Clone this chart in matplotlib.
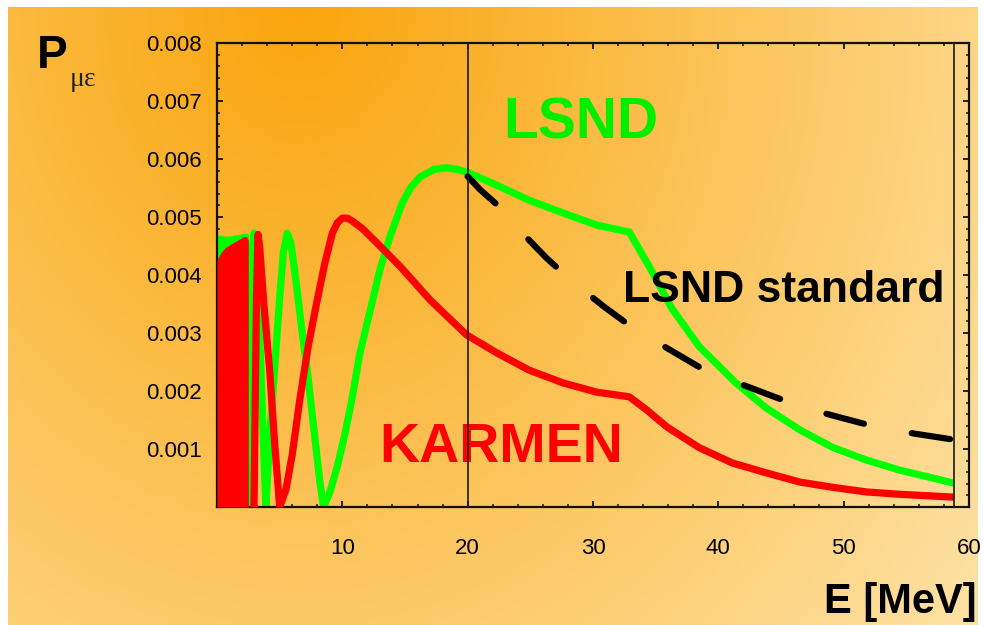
import numpy as np
import matplotlib
matplotlib.use("Agg")
import matplotlib.pyplot as plt
from matplotlib.ticker import MultipleLocator, FixedLocator

plt.rcParams['font.family'] = ['Liberation Sans', 'DejaVu Sans']

# ---- data (P values in units of 1e-3) ----
# dense oscillation region near E = 0 (drawn as filled envelopes)
dense_x = [0, 0.3, 0.64, 1.0, 1.4, 1.8, 2.1, 2.35, 2.5]
karmen_dense_top = [4.26, 4.38, 4.47, 4.52, 4.57, 4.62, 4.66, 4.66, 4.6]
lsnd_dense_top = [4.69, 4.68, 4.67, 4.67, 4.69, 4.7, 4.72, 4.72, 4.7]

# LSND (green)
lsnd_x = [2.5, 2.6, 2.7, 2.8, 2.95, 3.1, 3.3, 3.5, 3.7, 3.9, 4.2, 4.6, 5.0,
          5.3, 5.6, 5.9, 6.3, 6.8, 7.2, 7.7, 8.2, 8.5, 9.0, 9.6, 10.2, 10.75,
          11.4, 12.4, 13.0, 13.8, 14.8, 15.5, 16.2, 17.3, 18.3, 19.2, 20.0,
          22.3, 24.9, 27.6, 30.3, 32.9, 34.5, 36.3, 38.5, 41.4, 43.8, 46.5,
          49.1, 51.8, 54.4, 57.1, 58.8]
lsnd_p = [0, 1.8, 3.5, 4.45, 4.72, 4.45, 3.6, 2.4, 1.1, 0, 1.2, 2.4, 3.6,
          4.4, 4.72, 4.55, 3.9, 3.0, 2.36, 1.4, 0.45, 0, 0.25, 0.7, 1.25, 1.84,
          2.65, 3.55, 4.09, 4.66, 5.25, 5.52, 5.69, 5.82, 5.85, 5.82, 5.77,
          5.55, 5.29, 5.07, 4.86, 4.74, 4.14, 3.42, 2.76, 2.14, 1.71, 1.33,
          1.03, 0.81, 0.64, 0.50, 0.41]

# KARMEN (red)
karmen_x = [2.95, 3.05, 3.15, 3.27, 3.4, 3.7, 4.2, 4.6, 5.0, 5.5, 6.0,
            6.6, 7.3, 8.0, 8.6, 9.2, 9.6, 10.0, 10.4, 10.8, 11.6, 12.4, 13.0,
            14.6, 17.0, 19.9, 22.3, 24.9, 27.6, 30.3, 32.9, 34.3, 35.9, 38.5,
            41.1, 43.8, 46.5, 49.1, 51.8, 54.4, 58.8]
karmen_p = [0, 1.8, 3.6, 4.7, 4.5, 3.6, 2.36, 1.1, 0, 0.3, 0.9,
            1.84, 2.8, 3.57, 4.2, 4.72, 4.9, 4.98, 4.98, 4.93, 4.8, 4.63, 4.5,
            4.15, 3.57, 2.97, 2.66, 2.36, 2.14, 1.98, 1.90, 1.67, 1.38, 1.02,
            0.76, 0.59, 0.43, 0.34, 0.26, 0.22, 0.17]

# LSND standard (black dashed)
std_x = [20.0, 21.0, 22.2, 24.1, 26.3, 28.5, 30.9, 33.3, 35.9, 38.5, 41.3,
         44.1, 46.7, 49.6, 52.6, 55.5, 58.8]
std_p = [5.70, 5.47, 5.24, 4.78, 4.29, 3.86, 3.45, 3.07, 2.74, 2.41, 2.16,
         1.93, 1.72, 1.55, 1.38, 1.27, 1.16]

vlines_x = [20, 58.8]
xticks = [10, 20, 30, 40, 50, 60]
yticks = [0.001, 0.002, 0.003, 0.004, 0.005, 0.006, 0.007, 0.008]

W, H = 983, 625
fig = plt.figure(figsize=(W / 100, H / 100), dpi=100, facecolor='white')

# orange gradient background (with thin white margins)
bg = fig.add_axes([8 / W, 0, (W - 8 - 5) / W, (H - 7) / H], zorder=-10)
gx, gy = np.meshgrid(np.linspace(0, 1, 300), np.linspace(1, 0, 200))
t = np.clip(np.sqrt(((gx - 0.3) / 0.85) ** 2 + ((gy - 1.0) / 1.6) ** 2), 0, 1)
dark = np.array([250, 165, 12]) / 255
light = np.array([254, 224, 160]) / 255
img = dark[None, None, :] * (1 - t[..., None]) + light[None, None, :] * t[..., None]
bg.imshow(img, aspect='auto', extent=[0, 1, 0, 1])
bg.axis('off')

ax = fig.add_axes([217 / W, (H - 507) / H, 752 / W, 464 / H])
ax.set_facecolor('none')

def scale(v):
    return [p * 1e-3 for p in v]

ax.fill_between(dense_x, 0, scale(lsnd_dense_top), color='#00ff00', lw=0, zorder=2)
ax.plot(lsnd_x, scale(lsnd_p), color='#00ff00', lw=5.2, solid_capstyle='butt',
        solid_joinstyle='round', zorder=2)
ax.fill_between(dense_x, 0, scale(karmen_dense_top), color='#ff0000', lw=0, zorder=3)
ax.plot(karmen_x, scale(karmen_p), color='#ff0000', lw=5.2, solid_capstyle='butt',
        solid_joinstyle='round', zorder=3)
ax.plot(std_x, scale(std_p), color='black', lw=4.5, dashes=(6.2, 7.8),
        dash_capstyle='round', zorder=4)
for xv in vlines_x:
    ax.axvline(xv, color='#1a1a1a', lw=1.2, zorder=5)

ax.set_xlim(0, 60)
ax.set_ylim(0, 0.008)
ax.xaxis.set_major_locator(FixedLocator(xticks))
ax.xaxis.set_minor_locator(MultipleLocator(2))
ax.yaxis.set_major_locator(FixedLocator(yticks))
ax.yaxis.set_minor_locator(MultipleLocator(0.0002))
ax.set_xticklabels([str(v) for v in xticks])
ax.set_yticklabels(['%.3f' % v for v in yticks])
ax.tick_params(which='both', direction='in', top=True, right=True, color='#111111')
ax.tick_params(which='major', length=4, width=1.3)
ax.tick_params(which='minor', length=2.5, width=1.1)
ax.tick_params(axis='x', which='major', pad=22, labelsize=16)
ax.tick_params(axis='y', which='major', pad=11, labelsize=16)
for s in ax.spines.values():
    s.set_linewidth(1.6)
    s.set_color('#111111')

ax.text(29.0, 0.00636, 'LSND', color='#00ee00', fontsize=41, fontweight='bold',
        ha='center', va='baseline', zorder=4)
ax.text(22.65, 0.000776, 'KARMEN', color='#ff0000', fontsize=40, fontweight='bold',
        ha='center', va='baseline', zorder=4)
ax.text(45.2, 0.00353, 'LSND standard', color='black', fontsize=32, fontweight='bold',
        ha='center', va='baseline', zorder=4)

fig.text(37 / W, 1 - 68 / H, 'P', fontsize=33, fontweight='bold', ha='left', va='baseline')
fig.text(70 / W, 1 - 86 / H, 'με', fontsize=20, family=['Liberation Serif', 'DejaVu Serif'],
         color='#222222', ha='left', va='baseline')
fig.text(977 / W, 1 - 613 / H, 'E [MeV]', fontsize=30, fontweight='bold',
         ha='right', va='baseline')

fig.savefig('out.png', dpi=100)
